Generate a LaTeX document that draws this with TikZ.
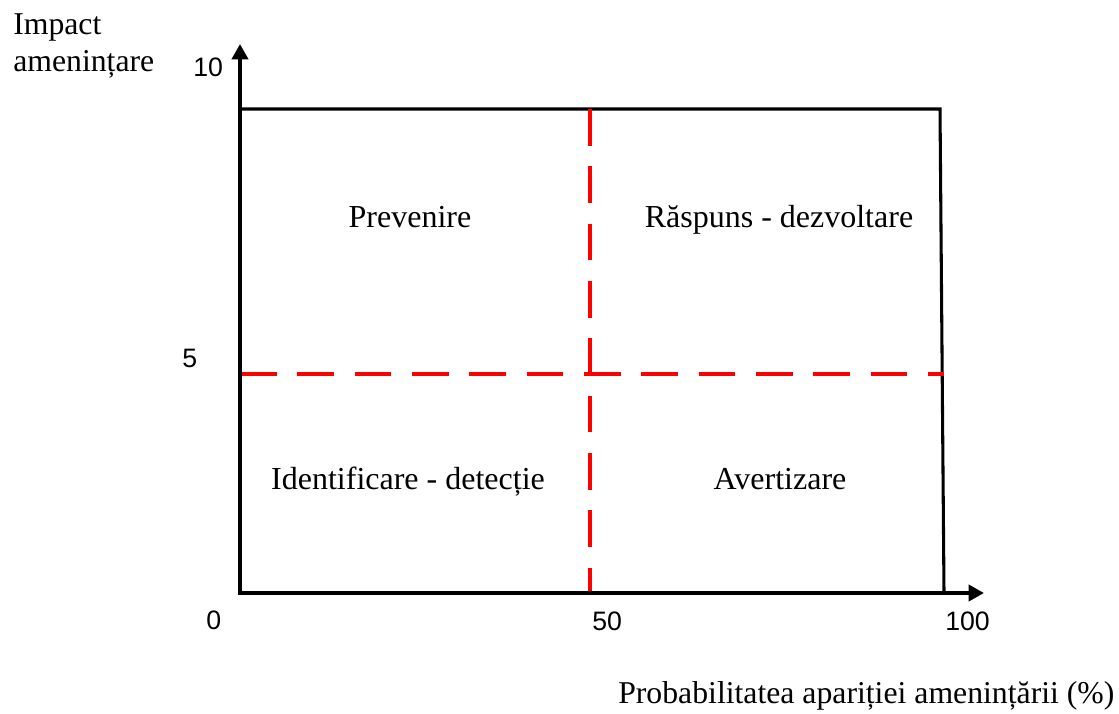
\documentclass[tikz,border=0pt]{standalone}
\usepackage{fontspec}
\setmainfont{Liberation Serif}
\newfontfamily\numfont{Liberation Sans}
\usetikzlibrary{arrows.meta}
\begin{document}
\begin{tikzpicture}[x=0.75pt,y=-0.75pt,
  axisline/.style={line width=3.4pt,-{Triangle[length=11.5pt,width=12pt]}},
  boxline/.style={line width=2.3pt},
  splitline/.style={line width=3pt,red,dash pattern=on 27.5pt off 15.5pt},
  zonelabel/.style={font=\fontsize{24}{28}\selectfont,inner sep=0pt,anchor=base},
  ticklabel/.style={font=\numfont\fontsize{20}{23}\selectfont,inner sep=0pt,anchor=base west},
  axislabel/.style={font=\fontsize{23.8}{28}\selectfont,inner sep=0pt,anchor=base west}]
\useasboundingbox (0,0) rectangle (1119,713);

% corners of the quadrant frame
\coordinate (O) at (240,593);
\coordinate (TL) at (240,109);
\coordinate (TR) at (940,109);
\coordinate (BR) at (944,593);
\coordinate (Ytip) at (240,44);
\coordinate (Xtip) at (984,593);
\coordinate (Ystart) at (240,595);
\coordinate (Xstart) at (238,593);

% dividing lines at 50% and impact 5
\coordinate (Vtop) at (590,109);
\coordinate (Vbot) at (590,593);
\coordinate (Hleft) at (240,373.5);
\coordinate (Hright) at (944,373.5);

% frame
\draw[boxline,line join=miter] (O) -- (TL) -- (TR) -- (BR);

% red dashed splits
\draw[splitline] (Vtop) -- (Vbot);
\draw[splitline] (Hleft) -- (Hright);

% axes
\draw[axisline] (Ystart) -- (Ytip);
\draw[axisline] (Xstart) -- (Xtip);

% tick values
\node[ticklabel] (t10) at (193,77) {10};
\node[ticklabel] (t5) at (182,367) {5};
\node[ticklabel] (t0) at (206,629) {0};
\node[ticklabel] (t50) at (592,630) {50};
\node[ticklabel] (t100) at (945,630) {100};

% axis titles
\node[axislabel] (ytitle1) at (13,35) {Impact};
\node[axislabel] (ytitle2) at (13,72) {amenințare};
\node[axislabel] (xtitle) at (618,703) {Probabilitatea apariției amenințării (\%)};

% quadrant names
\node[zonelabel] (q1) at (410,227) {Prevenire};
\node[zonelabel] (q2) at (779,227) {Răspuns - dezvoltare};
\node[zonelabel] (q3) at (408,489) {Identificare - detecție};
\node[zonelabel] (q4) at (780,489) {Avertizare};
\end{tikzpicture}
\end{document}
